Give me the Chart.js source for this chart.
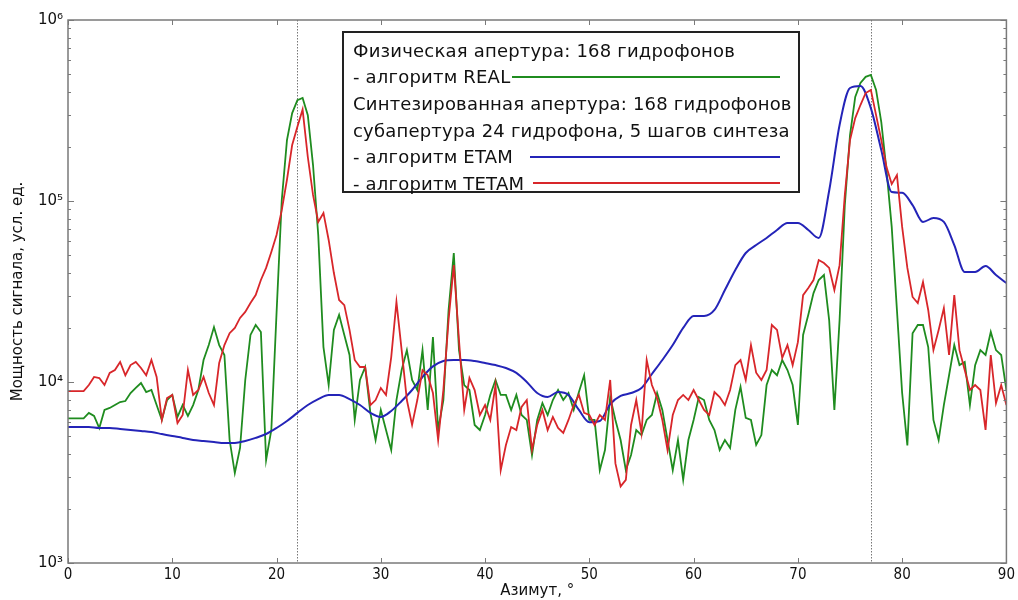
<!DOCTYPE html>
<html>
<head>
<meta charset="utf-8">
<script src="https://cdn.jsdelivr.net/npm/chart.js@4.4.1/dist/chart.umd.min.js"></script>
<style>
  body { margin: 0; background: #fff; }
  #wrap { position: relative; width: 1018px; height: 600px; }
  #legend {
    position: absolute; left: 342px; top: 31px; width: 458px; height: 162px;
    box-sizing: border-box; border: 2px solid #222; background: #fff;
    padding: 4px 18px 0 9px; font: 18px "DejaVu Sans", sans-serif; letter-spacing: 0.2px; color: #111;
  }
  .row { display: flex; align-items: center; white-space: nowrap; height: 26.6px; }
  .swatch { flex: 1; height: 2px; margin-left: 2px; }
</style>
</head>
<body>
<div id="wrap">
  <canvas id="chart" width="1018" height="600"></canvas>
  <div id="legend">
    <div class="row">Физическая апертура: 168 гидрофонов</div>
    <div class="row">- алгоритм REAL<span class="swatch" style="background:#1f8c1f"></span></div>
    <div class="row">Синтезированная апертура: 168 гидрофонов</div>
    <div class="row">субапертура 24 гидрофона, 5 шагов синтеза</div>
    <div class="row">- алгоритм ETAM <span class="swatch" style="background:#2424b8;margin-left:17px"></span></div>
    <div class="row">- алгоритм TETAM<span class="swatch" style="background:#d8262a;margin-left:9px"></span></div>
  </div>
</div>
<script>
// azimuth grids, degrees
const azimuthFine = Array.from({ length: 181 }, (_, i) => i * 0.5);
const azimuthCoarse = Array.from({ length: 91 }, (_, i) => i);

// physical aperture, REAL (0.5 deg step)
const powerReal = [
  6300, 6300, 6300, 6300, 6750, 6490, 5570, 7010, 7190, 7460,
  7750, 7850, 8690, 9270, 9870, 8800, 9030, 7460, 6170, 7950,
  8480, 6410, 7460, 6490, 7460, 9030, 13230, 16000, 20100, 16000,
  14100, 4780, 3140, 4320, 10260, 18200, 20650, 18900, 3710, 5430,
  24000, 101000, 217000, 306000, 361000, 371000, 298000, 158000, 64900, 15600,
  9620, 19400, 23500, 18200, 14100, 6170, 10260, 12100, 6750, 4780,
  7010, 5430, 4210, 7950, 11650, 15000, 10260, 9030, 15000, 7010,
  17700, 5430, 7950, 25000, 51600, 15000, 9620, 9030, 5790, 5430,
  6570, 8480, 10260, 8480, 8480, 7010, 8480, 6570, 6170, 3950,
  6170, 7650, 6570, 7950, 9030, 7950, 8690, 7010, 8800, 10900,
  6170, 6170, 3260, 4210, 8260, 6170, 4780, 3260, 3950, 5430,
  5090, 6170, 6570, 8690, 7010, 4780, 3260, 4780, 2880, 4780,
  6170, 8260, 7950, 6170, 5430, 4210, 4780, 4320, 7010, 9400,
  6330, 6170, 4490, 5090, 9620, 11650, 10900, 13230, 11650, 9620,
  5790, 18200, 23500, 31000, 36600, 39000, 22000, 7010, 22000, 94900,
  231000, 376000, 449000, 485000, 497000, 411000, 273000, 148000, 71900, 25000,
  8690, 4460, 18600, 20650, 20650, 15600, 6170, 4780, 7460, 10900,
  16000, 12400, 12900, 7460, 12400, 15000, 14100, 18900, 15000, 14100,
  9030
];

// synthesized aperture, TETAM (0.5 deg step)
const powerTetam = [
  8910, 8910, 8910, 8910, 9620, 10660, 10520, 9620, 11220, 11650,
  12900, 10900, 12400, 12900, 11950, 10900, 13230, 10660, 6170, 8160,
  8480, 5930, 6570, 11650, 8480, 9030, 10660, 8690, 7460, 12740,
  16000, 18600, 19900, 22600, 24400, 27300, 30200, 36600, 42700, 52300,
  64900, 89000, 131000, 204000, 257000, 320000, 175000, 108000, 76600, 85900,
  60900, 40000, 28400, 26600, 19400, 13230, 12100, 12100, 7460, 7950,
  9270, 8480, 13740, 27700, 15000, 7950, 5790, 7950, 11650, 10900,
  8690, 4780, 9030, 22000, 44200, 17000, 7010, 10520, 9030, 6570,
  7460, 6170, 9620, 3260, 4490, 5640, 5430, 7280, 7950, 4210,
  5790, 7010, 5430, 6410, 5570, 5230, 6170, 7460, 8480, 6750,
  6570, 5790, 6570, 6170, 10260, 3550, 2650, 2880, 5790, 7950,
  5230, 13230, 9620, 8160, 6170, 4210, 6570, 7950, 8480, 7950,
  9030, 7950, 7010, 6570, 8800, 8260, 7460, 9030, 12400, 13230,
  10260, 16000, 11260, 10260, 11650, 20650, 19400, 13600, 16000, 12400,
  16600, 30200, 33100, 36600, 47200, 45400, 42700, 32200, 44200, 108000,
  217000, 287000, 339000, 395000, 411000, 298000, 217000, 154000, 124000, 139000,
  71900, 42700, 29500, 27300, 35700, 25000, 15000, 19400, 25600, 14100,
  30200, 15000, 11650, 9030, 9620, 9030, 5430, 14100, 7650, 9620,
  7460
];

// synthesized aperture, ETAM (1 deg step)
const powerEtam = [
  5640, 5640, 5640, 5570, 5570, 5500, 5430, 5360, 5290, 5160,
  5030, 4910, 4780, 4720, 4660, 4600, 4600, 4720, 4910, 5160,
  5570, 6090, 6750, 7460, 8050, 8480, 8480, 8050, 7460, 6750,
  6410, 6920, 7850, 9030, 10660, 12200, 13060, 13230, 13230, 13060,
  12740, 12400, 11950, 11220, 10000, 8690, 8260, 8800, 8480, 7010,
  6000, 6090, 7550, 8370, 8690, 9270, 11070, 13230, 16000, 19900,
  23150, 23150, 25000, 32200, 41600, 51600, 57100, 62500, 69200, 75600,
  75600, 69200, 62500, 114000, 263000, 421000, 432000, 326000, 191000, 112000,
  111000, 94900, 76600, 80500, 76600, 57100, 40500, 40500, 43700, 39000,
  35200
];

const yTickValues = [1e3, 1e4, 1e5, 1e6];
const markerAzimuths = [22, 77];

const sup = { 3: "³", 4: "⁴", 5: "⁵", 6: "⁶" };
const tickFont = { family: "'DejaVu Sans Condensed', 'Liberation Sans Narrow', 'DejaVu Sans'", size: 15 };
const zip = (xs, ys) => xs.map((x, i) => ({ x, y: ys[i] }));

const framePlugin = {
  id: "frame",
  beforeDatasetsDraw(chart) {
    const { ctx, chartArea: a, scales } = chart;
    ctx.save();
    ctx.strokeStyle = "#777";
    ctx.lineWidth = 1;
    ctx.setLineDash([1.5, 1.5]);
    markerAzimuths.forEach((m) => {
      const px = Math.round(scales.x.getPixelForValue(m)) + 0.5;
      ctx.beginPath();
      ctx.moveTo(px, a.top);
      ctx.lineTo(px, a.bottom);
      ctx.stroke();
    });
    ctx.restore();
  },
  afterDraw(chart) {
    const { ctx, chartArea: a, scales } = chart;
    ctx.save();
    ctx.strokeStyle = "#7a7a7a";
    ctx.lineWidth = 1;
    for (let d = 3; d <= 6; d++) {
      for (let m = 1; m <= 9; m++) {
        const v = m * Math.pow(10, d);
        if (v > 1e6) break;
        const py = Math.round(scales.y.getPixelForValue(v)) + 0.5;
        const len = m === 1 ? 6 : 3;
        ctx.beginPath();
        ctx.moveTo(a.left, py); ctx.lineTo(a.left + len, py);
        ctx.moveTo(a.right, py); ctx.lineTo(a.right - len, py);
        ctx.stroke();
      }
    }
    for (let x = 0; x <= 90; x += 10) {
      const px = Math.round(scales.x.getPixelForValue(x)) + 0.5;
      ctx.beginPath();
      ctx.moveTo(px, a.bottom); ctx.lineTo(px, a.bottom - 5);
      ctx.moveTo(px, a.top); ctx.lineTo(px, a.top + 5);
      ctx.stroke();
    }
    ctx.lineWidth = 1.5;
    ctx.strokeRect(a.left, a.top, a.right - a.left, a.bottom - a.top);
    ctx.restore();
  },
};

new Chart(document.getElementById("chart"), {
  type: "line",
  data: {
    datasets: [
      { label: "алгоритм TETAM", data: zip(azimuthFine, powerTetam), borderColor: "#d8262a", order: 0 },
      { label: "алгоритм ETAM", data: zip(azimuthCoarse, powerEtam), borderColor: "#2424b8", borderWidth: 2, cubicInterpolationMode: "monotone", order: 1 },
      { label: "алгоритм REAL", data: zip(azimuthFine, powerReal), borderColor: "#1f8c1f", order: 2 },
    ],
  },
  options: {
    responsive: false,
    animation: false,
    layout: { padding: { left: 0, right: 8, top: 20, bottom: 0 } },
    elements: { point: { radius: 0 }, line: { borderWidth: 1.8, tension: 0 } },
    plugins: { legend: { display: false }, tooltip: { enabled: false } },
    scales: {
      x: {
        type: "linear",
        min: 0,
        max: 90,
        ticks: { stepSize: 10, color: "#111", font: tickFont, padding: 3 },
        grid: { display: false, drawTicks: false },
        border: { display: false },
        title: { display: true, text: "Азимут, °", color: "#111", font: { family: "'DejaVu Sans'", size: 15 }, padding: { top: 0, bottom: 0 } },
        afterFit: (s) => { s.height = 37; },
      },
      y: {
        type: "logarithmic",
        min: 1e3,
        max: 1e6,
        afterBuildTicks: (s) => { s.ticks = yTickValues.map((v) => ({ value: v })); },
        ticks: {
          autoSkip: false,
          color: "#111",
          font: { family: "'DejaVu Sans'", size: 15 },
          padding: 5,
          callback: (v) => "10" + sup[Math.round(Math.log10(v))],
        },
        grid: { display: false, drawTicks: false },
        border: { display: false },
        title: { display: true, text: "Мощность сигнала, усл. ед.", color: "#111", font: { family: "'DejaVu Sans'", size: 15 }, padding: { top: 9, bottom: 0 } },
        afterFit: (s) => { s.width = 68; },
      },
    },
  },
  plugins: [framePlugin],
});
</script>
</body>
</html>
